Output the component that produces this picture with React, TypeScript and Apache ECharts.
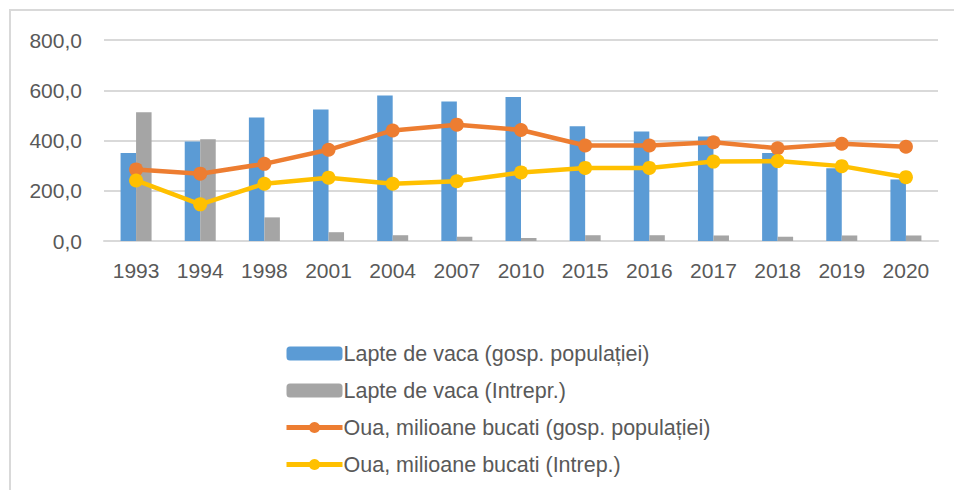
import React, { useEffect, useRef } from "react";
import * as echarts from "echarts";

const years = ["1993", "1994", "1998", "2001", "2004", "2007", "2010", "2015", "2016", "2017", "2018", "2019", "2020"];
const lapteGosp = [350, 396, 492, 523, 579, 555, 573, 457, 436, 416, 350, 290, 245];
const lapteIntrepr = [512, 405, 94, 35, 23, 17, 12, 23, 23, 22, 17, 22, 22];
const ouaGosp = [285, 268, 307, 363, 440, 463, 442, 380, 380, 393, 369, 387, 375];
const ouaIntrep = [241, 146, 228, 252, 228, 238, 273, 291, 291, 316, 318, 298, 254];

const names = [
  "Lapte de vaca (gosp. populației)",
  "Lapte de vaca (Intrepr.)",
  "Oua, milioane bucati (gosp. populației)",
  "Oua, milioane bucati (Intrep.)",
];

const FONT = "'Liberation Sans', Arial, sans-serif";
const TXT = "#595959";

export default function App() {
  const ref = useRef<HTMLDivElement>(null);
  useEffect(() => {
    if (!ref.current) return;
    const chart = echarts.init(ref.current, null, { renderer: "svg" });
    chart.setOption({
      animation: false,
      backgroundColor: "#ffffff",
      textStyle: { fontFamily: FONT },
      graphic: [
        {
          type: "polyline",
          shape: { points: [[10, 490], [10, 10], [954, 10]] },
          style: { stroke: "#d9d9d9", lineWidth: 2, fill: "none" },
          silent: true,
        },
      ],
      grid: { left: 104, right: 16, top: 40, bottom: 249, containLabel: false },
      xAxis: {
        type: "category",
        data: years,
        axisLine: { show: true, lineStyle: { color: "#d9d9d9", width: 2 } },
        axisTick: { show: false },
        axisLabel: { color: TXT, fontSize: 21, fontFamily: FONT, margin: 19 },
      },
      yAxis: {
        type: "value",
        min: 0,
        max: 800,
        interval: 200,
        axisLine: { show: false },
        axisTick: { show: false },
        splitLine: { lineStyle: { color: "#d9d9d9", width: 2 } },
        axisLabel: {
          color: TXT,
          fontSize: 21,
          fontFamily: FONT,
          margin: 22,
          formatter: (v: number) => v.toFixed(1).replace(".", ","),
        },
      },
      legend: {
        orient: "vertical",
        left: 279,
        top: 337,
        itemWidth: 56,
        itemHeight: 14,
        itemGap: 14,
        textStyle: { color: TXT, fontSize: 21.5, fontFamily: FONT, lineHeight: 23, padding: [0, 0, 0, -4] },
        data: [
          { name: names[0] },
          { name: names[1] },
          { name: names[2], lineStyle: { width: 5 } },
          { name: names[3], lineStyle: { width: 5 } },
        ],
      },
      series: [
        {
          name: names[0],
          type: "bar",
          data: lapteGosp,
          barWidth: 15.5,
          barGap: "0%",
          itemStyle: { color: "#5B9BD5" },
        },
        {
          name: names[1],
          type: "bar",
          data: lapteIntrepr,
          barWidth: 15.5,
          barGap: "0%",
          itemStyle: { color: "#A5A5A5" },
        },
        {
          name: names[2],
          type: "line",
          data: ouaGosp,
          symbol: "circle",
          symbolSize: 14,
          lineStyle: { color: "#ED7D31", width: 4.5 },
          itemStyle: { color: "#ED7D31" },
        },
        {
          name: names[3],
          type: "line",
          data: ouaIntrep,
          symbol: "circle",
          symbolSize: 14,
          lineStyle: { color: "#FFC000", width: 4.5 },
          itemStyle: { color: "#FFC000" },
        },
      ],
    });
    return () => chart.dispose();
  }, []);
  return (
    <div
      ref={ref}
      style={{ position: "fixed", left: 0, top: 0, width: 954, height: 490 }}
    />
  );
}
